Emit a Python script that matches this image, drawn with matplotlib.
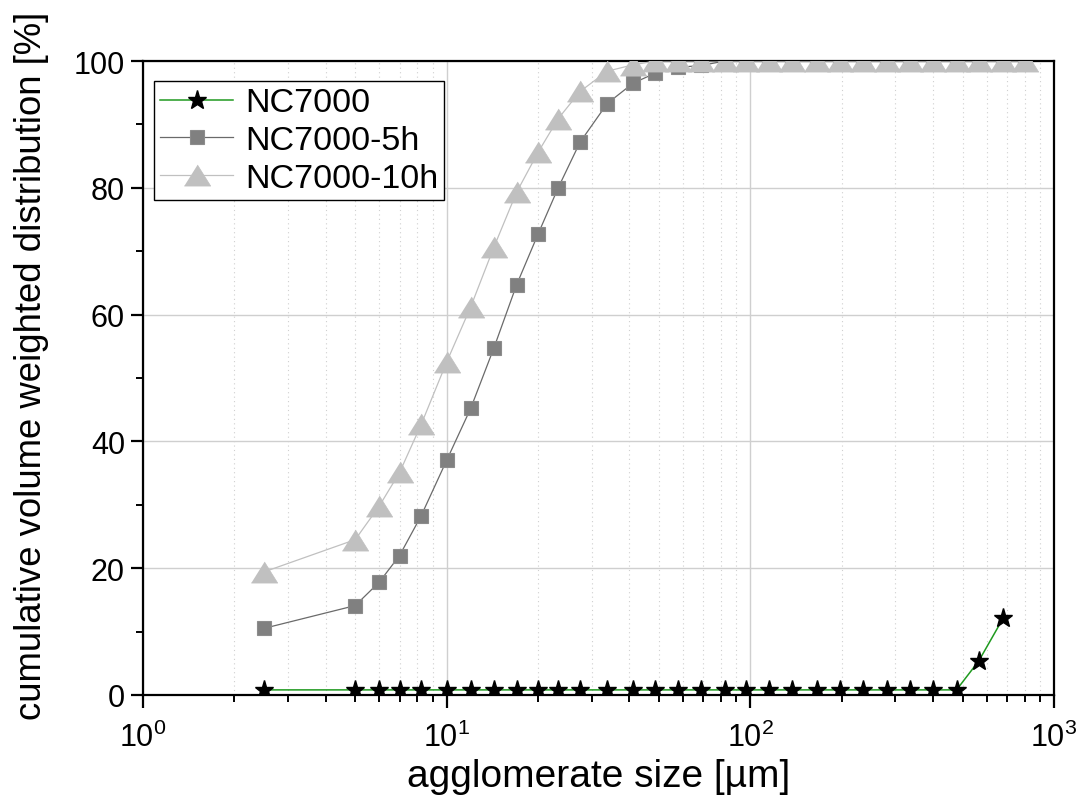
"""
Cumulative volume weighted agglomerate size distribution of NC7000 samples.
"""

import numpy as np
import matplotlib
matplotlib.use("Agg")
import matplotlib.pyplot as plt
from matplotlib.ticker import LogLocator, MultipleLocator

plt.rcParams['font.family'] = ['Liberation Sans', 'DejaVu Sans']
plt.rcParams['mathtext.fontset'] = 'custom'
plt.rcParams['mathtext.rm'] = 'Liberation Sans'
plt.rcParams['mathtext.default'] = 'regular'

# agglomerate size classes [um]
size_um = [2.5, 5.0, 6.0, 7.0, 8.25, 10.0, 12.0, 14.3, 17.0, 20.0, 23.3, 27.5,
           33.8, 41.1, 48.7, 57.8, 69.0, 82.4, 97.0, 115.0, 137.3, 165.3,
           197.2, 235.4, 281.0, 335.4, 400.0, 477.6, 566.0, 680.0, 802.0]

# cumulative distribution [%]
nc7000 = [0.8, 0.8, 0.8, 0.8, 0.8, 0.8, 0.8, 0.8, 0.8, 0.8, 0.8, 0.8,
          0.8, 0.8, 0.8, 0.8, 0.8, 0.8, 0.8, 0.8, 0.8, 0.8,
          0.8, 0.8, 0.8, 0.8, 0.8, 0.8, 5.4, 12.1]
nc7000_5h = [10.5, 14.1, 17.8, 22.0, 28.3, 37.0, 45.2, 54.7, 64.7, 72.7, 80.0, 87.2,
             93.3, 96.5, 98.1, 99.0, 99.3, 100.0, 100.0, 100.0, 100.0, 100.0,
             100.0, 100.0, 100.0, 100.0, 100.0, 100.0, 100.0, 100.0, 100.0]
nc7000_10h = [19.4, 24.5, 29.8, 35.1, 42.7, 52.5, 61.2, 70.6, 79.3, 85.6, 90.9, 95.2,
              98.4, 99.4, 100.0, 100.0, 100.0, 100.0, 100.0, 100.0, 100.0, 100.0,
              100.0, 100.0, 100.0, 100.0, 100.0, 100.0, 100.0, 100.0, 100.0]

fig = plt.figure(figsize=(10.83, 8.12), dpi=100)
ax = fig.add_axes([0.132, 0.1429, 0.8412, 0.7807])

ax.plot(size_um[:len(nc7000)], nc7000, color='#1f9a1f', lw=1.1,
        marker='*', ms=14, mfc='black', mec='black', label='NC7000', zorder=5)
ax.plot(size_um, nc7000_5h, color='#6a6a6a', lw=0.9,
        marker='s', ms=10.5, mfc='#808080', mec='#8c8c8c', mew=0.8,
        label='NC7000-5h', zorder=3)
ax.plot(size_um, nc7000_10h, color='#c0c0c0', lw=0.9,
        marker=[(-1.0, -0.8), (1.0, -0.8), (0.0, 0.8)], ms=19,
        mfc='#c0c0c0', mec='#c0c0c0', mew=0.5,
        label='NC7000-10h', zorder=4)

ax.set_xscale('log')
ax.set_xlim(1, 1000)
ax.set_ylim(0, 100)
ax.xaxis.set_major_locator(LogLocator(base=10, numticks=10))
ax.xaxis.set_minor_locator(LogLocator(base=10, subs=np.arange(2, 10), numticks=20))
ax.yaxis.set_major_locator(MultipleLocator(20))
ax.yaxis.set_minor_locator(MultipleLocator(10))

ax.grid(which='major', color='#cfcfcf', lw=1.0, ls='-')
ax.grid(which='minor', axis='x', color='#cfcfcf', lw=0.8, ls=(0, (1, 3)))
ax.set_axisbelow(True)

for sp in ax.spines.values():
    sp.set_linewidth(1.6)
    sp.set_color('black')

ax.tick_params(which='major', direction='out', length=9, width=1.6,
               labelsize=22, colors='black')
ax.tick_params(which='minor', direction='out', length=5, width=1.4)
ax.tick_params(axis='x', which='major', pad=10)
ax.tick_params(axis='y', which='major', pad=4)

ax.set_xlabel('agglomerate size [µm]', fontsize=28, labelpad=4)
ax.set_ylabel('cumulative volume weighted distribution [%]', fontsize=26.3)
ax.yaxis.set_label_coords(-0.103, 0.52)

leg = ax.legend(loc='upper left', bbox_to_anchor=(0.012, 0.968), borderaxespad=0,
                fontsize=24.5, handlelength=2.15, handletextpad=0.35,
                labelspacing=0.2, borderpad=0.18, fancybox=False,
                framealpha=1, edgecolor='black')
leg.get_frame().set_linewidth(1.0)

fig.savefig('out.png', dpi=100)
